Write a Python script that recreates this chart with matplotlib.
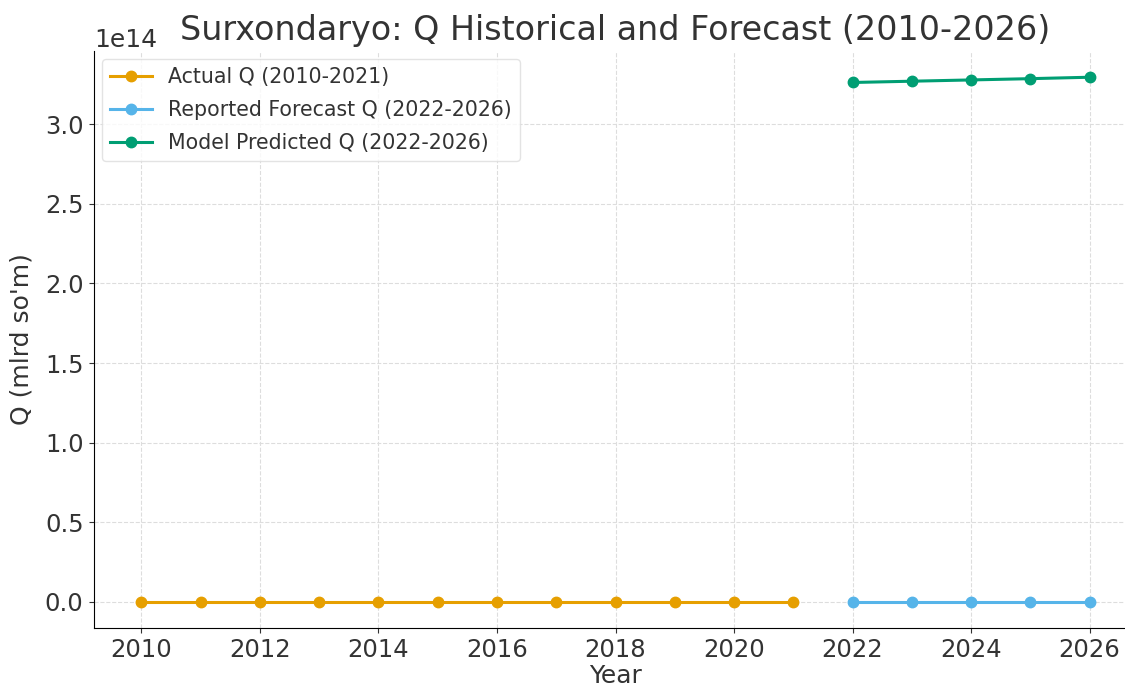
import matplotlib
matplotlib.use('Agg')
import matplotlib.pyplot as plt

# Surxondaryo Q, mlrd so'm
years_actual = [2010, 2011, 2012, 2013, 2014, 2015, 2016, 2017, 2018, 2019, 2020, 2021]
q_actual = [9800, 10900, 12100, 13500, 15200, 16800, 18700, 20500, 23600, 27400, 30100, 34800]

years_forecast = [2022, 2023, 2024, 2025, 2026]
q_reported = [38500, 42300, 46800, 51200, 56400]
q_model = [3.263e14, 3.271e14, 3.279e14, 3.287e14, 3.296e14]

plt.rcParams['text.color'] = '#333333'
plt.rcParams['axes.labelcolor'] = '#333333'
plt.rcParams['xtick.color'] = '#333333'
plt.rcParams['ytick.color'] = '#333333'

fig = plt.figure(figsize=(11.25, 6.89), dpi=100)
ax = fig.add_axes([94 / 1125, 61 / 689, 1043 / 1125, 577 / 689])

ax.plot(years_actual, q_actual, marker='o', color='#E69F00', linewidth=2.2, markersize=7.5,
        label='Actual Q (2010-2021)')
ax.plot(years_forecast, q_reported, marker='o', color='#56B4E9', linewidth=2.2, markersize=7.5,
        label='Reported Forecast Q (2022-2026)')
ax.plot(years_forecast, q_model, marker='o', color='#009E73', linewidth=2.2, markersize=7.5,
        label='Model Predicted Q (2022-2026)')

ax.set_title('Surxondaryo: Q Historical and Forecast (2010-2026)', fontsize=24, pad=8)
ax.set_xlabel('Year', fontsize=18, labelpad=1)
ax.set_ylabel("Q (mlrd so'm)", fontsize=18, labelpad=8)
ax.set_xticks(range(2010, 2027, 2))
ax.tick_params(labelsize=17.5, pad=4)
ax.yaxis.get_offset_text().set_fontsize(18)

ax.grid(True, linestyle='--', color='#dddddd', linewidth=0.8)
ax.set_axisbelow(True)
ax.spines['top'].set_visible(False)
ax.spines['right'].set_visible(False)

ax.legend(loc='upper left', fontsize=14.8, frameon=True, edgecolor='#dddddd',
          borderaxespad=0.4, labelspacing=0.62)

fig.savefig('out.png', dpi=100)
